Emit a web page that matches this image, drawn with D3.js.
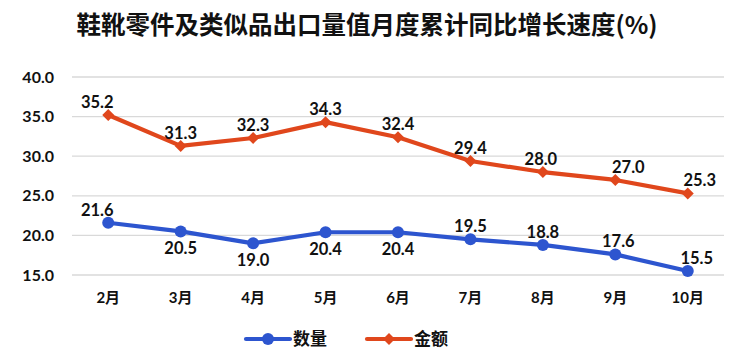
<!DOCTYPE html>
<html><head><meta charset="utf-8">
<script src="https://cdn.jsdelivr.net/npm/d3@7"></script>
<style>
body{margin:0;background:#fff;}
svg{display:block;font-family:Lato,"Noto Sans CJK SC",sans-serif;}
</style></head>
<body>
<svg id="c" width="750" height="356"></svg>
<script>
const title = "鞋靴零件及类似品出口量值月度累计同比增长速度(%)";
const months = ["2月","3月","4月","5月","6月","7月","8月","9月","10月"];
const quantity = [21.6,20.5,19.0,20.4,20.4,19.5,18.8,17.6,15.5];
const amount = [35.2,31.3,32.3,34.3,32.4,29.4,28.0,27.0,25.3];
const yTicks = [15,20,25,30,35,40];
const seriesNames = ["数量","金额"];

// label placement (style): above / below and small horizontal nudges
const qPos = ["above","below","below","below","below","above","above","above","above"];
const qDx = [-11,0,0,0,0,0,0,3,9];
const aDx = [-11,0,0,0,0,0,-2,13,12];

const blue = "#2D55CF", orange = "#E0471C";
const svg = d3.select("#c");
const m = {l:72, r:26};
const W = 750;
const x = d3.scaleBand().domain(months).range([m.l, W-m.r]);
const y = d3.scaleLinear().domain([15,40]).range([275,77]);

svg.append("text").attr("x",367).attr("y",34).attr("text-anchor","middle")
  .attr("font-family","'Noto Sans CJK SC',sans-serif").attr("font-weight","bold")
  .attr("font-size",24.5).attr("fill","#111").text(title);

// grid
svg.append("g").selectAll("line").data(yTicks).join("line")
  .attr("x1",x.range()[0]).attr("x2",x.range()[1])
  .attr("y1",d=>y(d)).attr("y2",d=>y(d))
  .attr("stroke","#d9d9d9").attr("stroke-width",1.3);

const yAxis = svg.append("g").attr("transform",`translate(${m.l},0)`)
  .call(d3.axisLeft(y).tickValues(yTicks).tickFormat(d3.format(".1f")).tickSize(0).tickPadding(18));
yAxis.select(".domain").remove();
yAxis.selectAll("text").attr("font-family","Lato,sans-serif").attr("font-weight","bold")
  .attr("font-size",16).attr("fill","#111");

const xAxis = svg.append("g").attr("transform",`translate(0,${y(15)})`)
  .call(d3.axisBottom(x).tickSize(0).tickPadding(17));
xAxis.select(".domain").remove();
xAxis.selectAll("text").attr("font-family","Lato,'Noto Sans CJK SC',sans-serif").attr("font-weight","bold")
  .attr("font-size",15).attr("fill","#111");

const cx = d => x(d)+x.bandwidth()/2;
const line = d3.line().x((d,i)=>cx(months[i])).y(d=>y(d));

svg.append("path").datum(amount).attr("d",line).attr("fill","none")
  .attr("stroke",orange).attr("stroke-width",4.2).attr("stroke-linejoin","round");
svg.append("path").datum(quantity).attr("d",line).attr("fill","none")
  .attr("stroke",blue).attr("stroke-width",4.2).attr("stroke-linejoin","round");

// diamond = square rotated 45 degrees
const diamond = "M0,-6L6,0L0,6L-6,0Z";
svg.append("g").selectAll("path").data(amount).join("path")
  .attr("d",diamond).attr("transform",(d,i)=>`translate(${cx(months[i])},${y(d)})`)
  .attr("fill",orange);
svg.append("g").selectAll("circle").data(quantity).join("circle")
  .attr("cx",(d,i)=>cx(months[i])).attr("cy",d=>y(d)).attr("r",6).attr("fill",blue);

const lbl = {"font-family":"Lato,sans-serif","font-weight":"bold","font-size":16.5,"fill":"#111"};
function applyLbl(sel){ for(const k in lbl) sel.attr(k,lbl[k]); return sel; }

applyLbl(svg.append("g").selectAll("text").data(amount).join("text")
  .attr("x",(d,i)=>cx(months[i])+aDx[i]).attr("y",d=>y(d)-7)
  .attr("text-anchor","middle").text(d=>d3.format(".1f")(d)));
applyLbl(svg.append("g").selectAll("text").data(quantity).join("text")
  .attr("x",(d,i)=>cx(months[i])+qDx[i])
  .attr("y",(d,i)=>qPos[i]==="above"? y(d)-7 : y(d)+23)
  .attr("text-anchor","middle").text(d=>d3.format(".1f")(d)));

// legend
const lg = svg.append("g");
const items = [{name:seriesNames[0],c:blue,x:246,sym:"c"},{name:seriesNames[1],c:orange,x:367,sym:"d"}];
items.forEach(it=>{
  lg.append("line").attr("x1",it.x).attr("x2",it.x+44).attr("y1",339).attr("y2",339)
    .attr("stroke",it.c).attr("stroke-width",4.2).attr("stroke-linecap","round");
  if(it.sym==="c") lg.append("circle").attr("cx",it.x+22).attr("cy",339).attr("r",6).attr("fill",it.c);
  else lg.append("path").attr("d",diamond).attr("transform",`translate(${it.x+22},339)`).attr("fill",it.c);
  lg.append("text").attr("x",it.x+47).attr("y",345).attr("font-family","'Noto Sans CJK SC',sans-serif")
    .attr("font-weight","bold").attr("font-size",17).attr("fill","#111").text(it.name);
});
</script>
</body></html>
